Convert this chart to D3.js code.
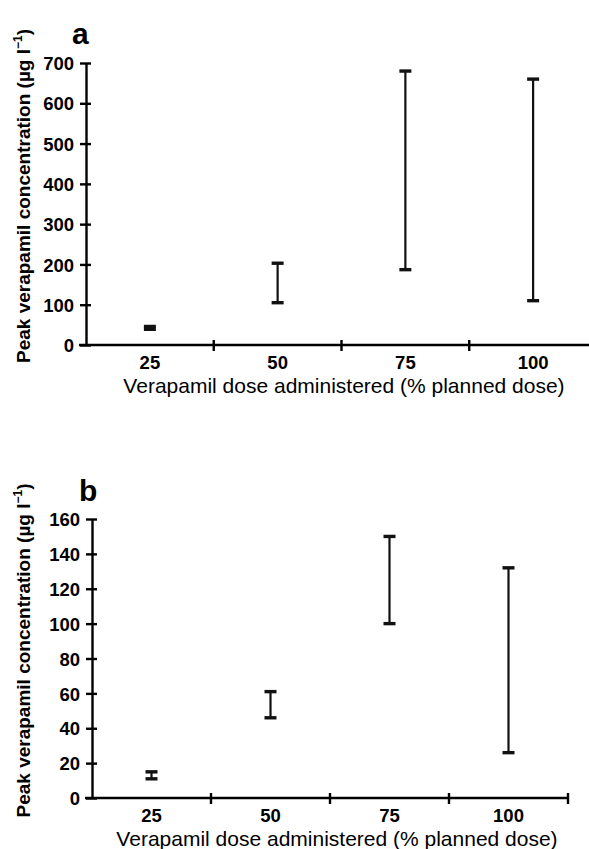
<!DOCTYPE html>
<html>
<head>
<meta charset="utf-8">
<script src="https://cdn.jsdelivr.net/npm/d3@7"></script>
<style>
  body { margin: 0; background: #fff; }
  svg { display: block; }
  text { font-family: "Liberation Sans", Arial, sans-serif; fill: #000; }
</style>
</head>
<body>
<svg id="chart" width="589" height="849"></svg>
<script>
// doses (% of planned dose)
var doses = ["25", "50", "75", "100"];

// panel a: range of peak verapamil concentration (ug/l)
var lowA = [39, 105, 187, 110];
var highA = [46, 203, 680, 660];
var ticksA = [0, 100, 200, 300, 400, 500, 600, 700];

// panel b
var lowB = [11, 46, 100, 26];
var highB = [15, 61, 150, 132];
var ticksB = [0, 20, 40, 60, 80, 100, 120, 140, 160];

var yTitle = "Peak verapamil concentration (\u00b5g l";
var xTitle = "Verapamil dose administered (% planned dose)";

var svg = d3.select("#chart");

var panels = [
    { letter: "a", low: lowA, high: highA, ticks: ticksA, yMax: 700,
      x0: 86, x1: 597, yTop: 63, yBottom: 345, letterX: 72, letterY: 44, titleX: 344 },
    { letter: "b", low: lowB, high: highB, ticks: ticksB, yMax: 160,
      x0: 92, x1: 568, yTop: 519, yBottom: 798, letterX: 79, letterY: 501, titleX: 337 }
];

panels.forEach(function (p) {
    var g = svg.append("g");

    var x = d3.scaleBand()
        .domain(doses)
        .range([p.x0, p.x1])
        .padding(0);

    var y = d3.scaleLinear()
        .domain([0, p.yMax])
        .range([p.yBottom, p.yTop]);

    // y axis
    var yAxis = d3.axisLeft(y)
        .tickValues(p.ticks)
        .tickSizeInner(6)
        .tickSizeOuter(0)
        .tickPadding(4);

    var ya = g.append("g")
        .attr("transform", "translate(" + p.x0 + ",0)")
        .call(yAxis);
    ya.select(".domain").attr("stroke", "#000").attr("stroke-width", 2.4);
    ya.selectAll(".tick line")
        .attr("x1", 5)
        .attr("stroke", "#000")
        .attr("stroke-width", 2.4);
    ya.selectAll(".tick text")
        .attr("x", -12)
        .style("font-size", "18.5px")
        .style("font-weight", "bold")
        .attr("dy", "0.36em");

    // x axis: labels at band centres, ticks at band boundaries
    var xAxis = d3.axisBottom(x)
        .tickSize(0)
        .tickPadding(11);

    var xa = g.append("g")
        .attr("transform", "translate(0," + p.yBottom + ")")
        .call(xAxis);
    xa.select(".domain").remove();
    xa.selectAll(".tick text")
        .style("font-size", "18.5px")
        .style("font-weight", "bold");

    g.append("line")
        .attr("x1", p.x0 - 7)
        .attr("x2", p.x1)
        .attr("y1", p.yBottom)
        .attr("y2", p.yBottom)
        .attr("stroke", "#000")
        .attr("stroke-width", 2.6);

    var bounds = doses.map(function (d) { return x(d) + x.bandwidth(); });
    g.selectAll(".xtick")
        .data(bounds)
        .enter().append("line")
        .attr("class", "xtick")
        .attr("x1", function (d) { return d; })
        .attr("x2", function (d) { return d; })
        .attr("y1", p.yBottom - 5)
        .attr("y2", p.yBottom + 6)
        .attr("stroke", "#000")
        .attr("stroke-width", 2.4);

    // range bars
    var rows = doses.map(function (d, i) {
        return { dose: d, low: p.low[i], high: p.high[i] };
    });

    var bars = g.selectAll(".range")
        .data(rows)
        .enter().append("g")
        .attr("class", "range");

    bars.append("line")
        .attr("x1", function (d) { return x(d.dose) + x.bandwidth() / 2; })
        .attr("x2", function (d) { return x(d.dose) + x.bandwidth() / 2; })
        .attr("y1", function (d) { return y(d.low); })
        .attr("y2", function (d) { return y(d.high); })
        .attr("stroke", "#111")
        .attr("stroke-width", 2.2);

    ["low", "high"].forEach(function (k) {
        bars.append("line")
            .attr("x1", function (d) { return x(d.dose) + x.bandwidth() / 2 - 6; })
            .attr("x2", function (d) { return x(d.dose) + x.bandwidth() / 2 + 6; })
            .attr("y1", function (d) { return y(d[k]); })
            .attr("y2", function (d) { return y(d[k]); })
            .attr("stroke", "#111")
            .attr("stroke-width", 3.4);
    });

    // panel letter
    g.append("text")
        .attr("x", p.letterX)
        .attr("y", p.letterY)
        .style("font-size", "30px")
        .style("font-weight", "900")
        .text(p.letter);

    // axis titles
    var yt = g.append("text")
        .attr("transform", "translate(30," + ((p.yTop + p.yBottom) / 2 - 8) + ") rotate(-90)")
        .attr("text-anchor", "middle")
        .style("font-size", "19px")
        .style("font-weight", "bold");
    yt.append("tspan").text(yTitle);
    yt.append("tspan").attr("dy", -8).style("font-size", "12px").text("\u22121");
    yt.append("tspan").attr("dy", 8).text(")");

    g.append("text")
        .attr("x", p.titleX)
        .attr("y", p.yBottom + 48)
        .attr("text-anchor", "middle")
        .style("font-size", "21px")
        .text(xTitle);
});
</script>
</body>
</html>
